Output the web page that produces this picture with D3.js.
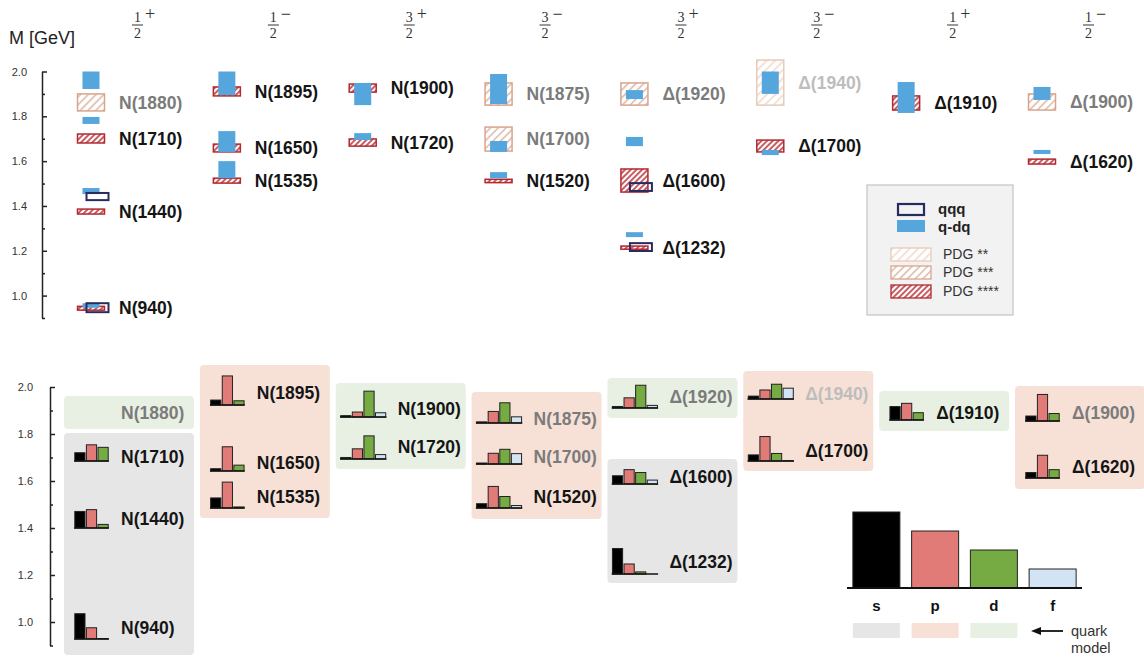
<!DOCTYPE html>
<html><head><meta charset="utf-8">
<script src="https://cdn.jsdelivr.net/npm/d3@7"></script>
<style>
body{margin:0;background:#fff;}
svg{display:block;font-family:"Liberation Sans",Arial,sans-serif;}
</style></head><body>
<svg id="chart" width="1144" height="657"></svg>
<script>
// J^P of each column: nucleons first, then Deltas
const spins = ["1","1","3","3","3","3","1","1"];
const parities = ["+","−","+","−","+","−","+","−"];
const massTicks = [1.0, 1.2, 1.4, 1.6, 1.8, 2.0];
const minorTicks = [0.9, 1.1, 1.3, 1.5, 1.7, 1.9];

// PDG resonances: [name, column, star rating, mass low, mass high] (GeV)
const pdg = [
  ["N(940)", 0, 4, 0.935, 0.952],
  ["N(1440)", 0, 4, 1.364, 1.386],
  ["N(1710)", 0, 4, 1.681, 1.721],
  ["N(1880)", 0, 3, 1.824, 1.900],
  ["N(1535)", 1, 4, 1.502, 1.524],
  ["N(1650)", 1, 4, 1.641, 1.676],
  ["N(1895)", 1, 4, 1.891, 1.931],
  ["N(1720)", 2, 4, 1.667, 1.699],
  ["N(1900)", 2, 4, 1.908, 1.944],
  ["N(1520)", 3, 4, 1.504, 1.519],
  ["N(1700)", 3, 3, 1.645, 1.752],
  ["N(1875)", 3, 3, 1.850, 1.949],
  ["Δ(1232)", 4, 4, 1.207, 1.221],
  ["Δ(1600)", 4, 4, 1.462, 1.565],
  ["Δ(1920)", 4, 3, 1.850, 1.949],
  ["Δ(1700)", 5, 4, 1.641, 1.694],
  ["Δ(1940)", 5, 2, 1.850, 2.051],
  ["Δ(1910)", 6, 4, 1.828, 1.891],
  ["Δ(1620)", 7, 4, 1.587, 1.609],
  ["Δ(1900)", 7, 3, 1.828, 1.900]
];

// quark-diquark masses: [column, low, high]
const quarkDiquark = [
  [0, 0.946, 0.966], [0, 1.453, 1.480], [0, 1.766, 1.797], [0, 1.922, 2.000],
  [1, 1.524, 1.600], [1, 1.641, 1.734], [1, 1.895, 2.000],
  [2, 1.694, 1.725], [2, 1.850, 1.949],
  [3, 1.524, 1.551], [3, 1.641, 1.690], [3, 1.855, 1.989],
  [4, 1.261, 1.283], [4, 1.667, 1.708], [4, 1.877, 1.917],
  [5, 1.627, 1.650], [5, 1.900, 2.000],
  [6, 1.815, 1.953],
  [7, 1.632, 1.650], [7, 1.873, 1.931]
];

// three-quark masses: [column, low, high]
const threeQuark = [
  [0, 0.926, 0.966], [0, 1.426, 1.458],
  [4, 1.199, 1.234], [4, 1.467, 1.502]
];

// quark-model shells: [column, shell, mass low, mass high]
const modelGroups = [
  [0, "d", 1.821, 1.962], [0, "s", 0.860, 1.804],
  [1, "p", 1.443, 2.094],
  [2, "d", 1.651, 2.017],
  [3, "p", 1.438, 1.979],
  [4, "d", 1.868, 2.038], [4, "s", 1.166, 1.694],
  [5, "p", 1.643, 2.068],
  [6, "d", 1.813, 1.983],
  [7, "p", 1.566, 2.004]
];

// orbital content: [name, column, label mass, baseline mass, s, p, d, f]
const waves = [
  ["N(1880)", 0, 1.889, null, null, null, null, null],
  ["N(1710)", 0, 1.702, 1.685, 0.23, 0.45, 0.38, null],
  ["N(1440)", 0, 1.438, 1.400, 0.46, 0.51, 0.10, null],
  ["N(940)", 0, 0.974, 0.928, 0.70, 0.31, 0.01, null],
  ["N(1895)", 1, 1.974, 1.923, 0.14, 0.81, 0.12, null],
  ["N(1650)", 1, 1.677, 1.643, 0.06, 0.67, 0.16, null],
  ["N(1535)", 1, 1.532, 1.485, 0.28, 0.72, 0.03, null],
  ["N(1900)", 2, 1.906, 1.872, 0.04, 0.14, 0.72, 0.12],
  ["N(1720)", 2, 1.745, 1.694, 0.04, 0.28, 0.64, 0.12],
  ["N(1875)", 3, 1.864, 1.847, 0.03, 0.32, 0.56, 0.17],
  ["N(1700)", 3, 1.702, 1.672, 0.03, 0.30, 0.41, 0.29],
  ["N(1520)", 3, 1.532, 1.485, 0.12, 0.60, 0.32, 0.07],
  ["Δ(1920)", 4, 1.957, 1.911, 0.04, 0.28, 0.63, 0.07],
  ["Δ(1600)", 4, 1.617, 1.587, 0.23, 0.40, 0.32, 0.11],
  ["Δ(1232)", 4, 1.255, 1.204, 0.71, 0.28, 0.06, 0.00],
  ["Δ(1940)", 5, 1.970, 1.949, 0.08, 0.25, 0.41, 0.30],
  ["Δ(1700)", 5, 1.728, 1.685, 0.17, 0.68, 0.21, 0.01],
  ["Δ(1910)", 6, 1.889, 1.860, 0.37, 0.46, 0.20, null],
  ["Δ(1900)", 7, 1.889, 1.855, 0.14, 0.74, 0.21, null],
  ["Δ(1620)", 7, 1.660, 1.613, 0.15, 0.63, 0.23, null]
];

const waveNames = ["s", "p", "d", "f"];
const waveLegendValues = [4, 3, 2, 1];
const shellOrder = ["s", "p", "d"];

// ---------- styles ----------
const waveColor = {s: "#000000", p: "#e07b77", d: "#76aa42", f: "#d2e4f3"};
const shellColor = {s: "#e6e6e6", p: "#f7e1d6", d: "#e8f0e3"};
const starStroke = {2: "#e8cbb7", 3: "#d8a48e", 4: "#b3282e"};
const starLabel = {2: "#bdbdbd", 3: "#7b7b7b", 4: "#151515"};
const blue = "#56a6de", navy = "#272b5e";

const svg = d3.select("#chart");

// hatch patterns for PDG ratings
const defs = svg.append("defs");
[[2, 6, 1.1], [3, 5.5, 1.2], [4, 4, 1.5]].forEach(([r, s, w]) => {
  const p = defs.append("pattern").attr("id", "hatch" + r)
    .attr("patternUnits", "userSpaceOnUse").attr("width", s).attr("height", s)
    .attr("patternTransform", "rotate(45)");
  p.append("rect").attr("width", s).attr("height", s).attr("fill", "#fff");
  p.append("line").attr("x1", s / 2).attr("x2", s / 2).attr("y1", 0).attr("y2", s)
    .attr("stroke", starStroke[r]).attr("stroke-width", w);
});

const x = d3.scalePoint().domain(d3.range(8)).range([91, 1042]);
const yTop = d3.scaleLinear().domain([0.9, 2.0]).range([318, 71.5]);
const yBot = d3.scaleLinear().domain([0.9, 2.0]).range([645.5, 387]);
const stars = Object.fromEntries(pdg.map(d => [d[0], d[2]]));

function drawAxis(scale, xPos, pad) {
  const g = svg.append("g").attr("transform", `translate(${xPos},0)`);
  g.call(d3.axisLeft(scale).tickValues(massTicks).tickFormat(d3.format(".1f"))
    .tickSizeInner(-5).tickSizeOuter(0).tickPadding(pad));
  g.append("g").call(d3.axisLeft(scale).tickValues(minorTicks).tickFormat("")
    .tickSizeInner(-3).tickSizeOuter(0)).select(".domain").remove();
  g.selectAll("path,line").attr("stroke", "#222").attr("stroke-width", 1.5);
  g.selectAll("text").attr("font-size", 11).attr("fill", "#333")
    .attr("font-family", "Liberation Sans, Arial, sans-serif");
}
drawAxis(yTop, 42, 15);
drawAxis(yBot, 50, 17);

svg.append("text").attr("x", 9).attr("y", 44).attr("font-size", 18).attr("fill", "#222")
  .text("M [GeV]");

// J^P headers
const heads = svg.append("g").attr("font-family", "Liberation Serif, DejaVu Serif, serif").attr("fill", "#333");
d3.range(8).forEach(i => {
  const cx = x(i) + 46.5;
  heads.append("text").attr("x", cx).attr("y", 22).attr("text-anchor", "middle")
    .attr("font-size", 14).text(spins[i]);
  heads.append("line").attr("x1", cx - 5.5).attr("x2", cx + 5.5).attr("y1", 25).attr("y2", 25)
    .attr("stroke", "#333").attr("stroke-width", 1);
  heads.append("text").attr("x", cx).attr("y", 37.5).attr("text-anchor", "middle")
    .attr("font-size", 14).text("2");
  heads.append("text").attr("x", cx + 7.5).attr("y", 20).attr("font-size", 18)
    .text(parities[i]);
});

// ---------- top panel: mass spectrum ----------
const spectrum = svg.append("g");
spectrum.selectAll("rect.pdg").data(pdg).join("rect").attr("class", "pdg")
  .attr("x", d => x(d[1]) - 13.5).attr("width", 27)
  .attr("y", d => yTop(d[4])).attr("height", d => yTop(d[3]) - yTop(d[4]))
  .attr("fill", d => `url(#hatch${d[2]})`)
  .attr("stroke", d => starStroke[d[2]]).attr("stroke-width", 1.5);

spectrum.selectAll("rect.qdq").data(quarkDiquark).join("rect").attr("class", "qdq")
  .attr("x", d => x(d[0]) - 8.5).attr("width", 17)
  .attr("y", d => yTop(d[2])).attr("height", d => yTop(d[1]) - yTop(d[2]))
  .attr("fill", blue);

spectrum.selectAll("rect.qqq").data(threeQuark).join("rect").attr("class", "qqq")
  .attr("x", d => x(d[0]) - 4.5).attr("width", 22)
  .attr("y", d => yTop(d[2])).attr("height", d => yTop(d[1]) - yTop(d[2]))
  .attr("fill", "none").attr("stroke", navy).attr("stroke-width", 2);

spectrum.selectAll("text.name").data(pdg).join("text").attr("class", "name")
  .attr("x", d => x(d[1]) + 28).attr("y", d => yTop((d[3] + d[4]) / 2)).attr("dy", "0.35em")
  .attr("font-size", 17.5).attr("font-weight", "bold")
  .attr("fill", d => starLabel[d[2]]).text(d => d[0]);

// legend for the spectrum
const lg = svg.append("g");
lg.append("rect").attr("x", 867).attr("y", 185).attr("width", 146).attr("height", 130)
  .attr("fill", "#f2f2f2").attr("stroke", "#c4c4c4").attr("stroke-width", 1.2);
lg.append("rect").attr("x", 898).attr("y", 204).attr("width", 26).attr("height", 11)
  .attr("fill", "none").attr("stroke", navy).attr("stroke-width", 2.2);
lg.append("rect").attr("x", 897).attr("y", 220).attr("width", 28).attr("height", 12).attr("fill", blue);
lg.append("text").attr("x", 938).attr("y", 209).attr("dy", "0.35em").attr("font-size", 15)
  .attr("font-weight", "bold").attr("fill", "#222").text("qqq");
lg.append("text").attr("x", 938).attr("y", 227).attr("dy", "0.35em").attr("font-size", 15)
  .attr("font-weight", "bold").attr("fill", "#222").text("q-dq");
[[2, 248, "PDG **"], [3, 266, "PDG ***"], [4, 285, "PDG ****"]].forEach(([r, yy, t]) => {
  lg.append("rect").attr("x", 891).attr("y", yy).attr("width", 40).attr("height", 13)
    .attr("fill", `url(#hatch${r})`).attr("stroke", starStroke[r]).attr("stroke-width", 1.3);
  lg.append("text").attr("x", 943).attr("y", yy + 6.5).attr("dy", "0.35em").attr("font-size", 14)
    .attr("fill", "#333").text(t);
});

// ---------- bottom panel: orbital content ----------
const bot = svg.append("g");
bot.selectAll("rect.shell").data(modelGroups).join("rect").attr("class", "shell")
  .attr("x", d => x(d[0]) - 27).attr("width", 130)
  .attr("y", d => yBot(d[3])).attr("height", d => yBot(d[2]) - yBot(d[3]))
  .attr("rx", 4).attr("fill", d => shellColor[d[1]]);

const hScale = d3.scaleLinear().domain([0, 1]).range([0, 36]);
const step = 11.6;
waves.forEach(w => {
  const vals = w.slice(4).filter(v => v !== null);
  const n = vals.length;
  const cx = x(w[1]) + 0.5;
  if (n) {
    const x0 = cx - n * step / 2, base = yBot(w[3]);
    const g = bot.append("g");
    g.selectAll("rect").data(vals).join("rect")
      .attr("x", (v, k) => x0 + k * step + 0.7).attr("width", step - 1.4)
      .attr("y", v => base - hScale(v)).attr("height", v => hScale(v))
      .attr("fill", (v, k) => waveColor[waveNames[k]])
      .attr("stroke", "#222").attr("stroke-width", 1);
    g.append("line").attr("x1", x0).attr("x2", x0 + n * step).attr("y1", base).attr("y2", base)
      .attr("stroke", "#111").attr("stroke-width", 1.5);
  }
  bot.append("text").attr("x", x(w[1]) + (n === 4 ? 35 : 30)).attr("y", yBot(w[2])).attr("dy", "0.35em")
    .attr("font-size", 17.5).attr("font-weight", "bold")
    .attr("fill", starLabel[stars[w[0]]]).text(w[0]);
});

// wave legend
const lx = d3.scaleBand().domain(waveNames).range([847, 1082]).paddingInner(0.2).paddingOuter(0.1);
const ly = d3.scaleLinear().domain([0, 4]).range([588, 512]);
const leg = svg.append("g");
leg.selectAll("rect.bar").data(waveLegendValues).join("rect").attr("class", "bar")
  .attr("x", (v, k) => lx(waveNames[k])).attr("width", lx.bandwidth())
  .attr("y", v => ly(v)).attr("height", v => ly(0) - ly(v))
  .attr("fill", (v, k) => waveColor[waveNames[k]]).attr("stroke", "#222").attr("stroke-width", 1);
leg.append("line").attr("x1", 847).attr("x2", 1082).attr("y1", ly(0)).attr("y2", ly(0))
  .attr("stroke", "#111").attr("stroke-width", 2);
leg.selectAll("text.wl").data(waveNames).join("text").attr("class", "wl")
  .attr("x", d => lx(d) + lx.bandwidth() / 2).attr("y", 611).attr("text-anchor", "middle")
  .attr("font-size", 15).attr("font-weight", "bold").attr("fill", "#111").text(d => d);
leg.selectAll("rect.sw").data(shellOrder).join("rect").attr("class", "sw")
  .attr("x", d => lx(d)).attr("width", lx.bandwidth()).attr("y", 623).attr("height", 15)
  .attr("fill", d => shellColor[d]);
leg.append("line").attr("x1", 1063).attr("x2", 1038).attr("y1", 631).attr("y2", 631)
  .attr("stroke", "#111").attr("stroke-width", 1.8);
leg.append("path").attr("d", "M1031,631 L1041,627 L1041,635 Z").attr("fill", "#111");
leg.append("text").attr("x", 1071).attr("y", 636).attr("font-size", 14.5).attr("fill", "#333").text("quark");
leg.append("text").attr("x", 1071).attr("y", 653).attr("font-size", 14.5).attr("fill", "#333").text("model");
</script></body></html>
